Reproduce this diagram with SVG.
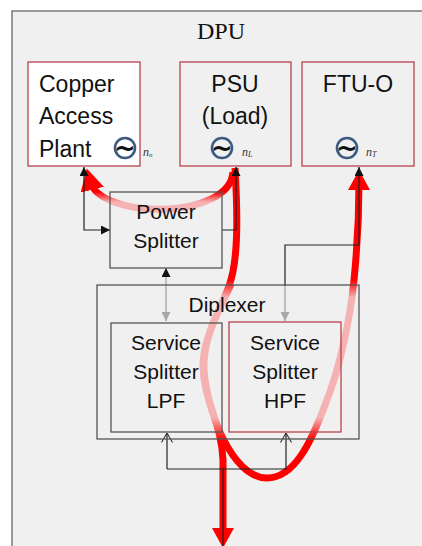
<svg xmlns="http://www.w3.org/2000/svg" width="422" height="546" viewBox="0 0 422 546">
<style>
.box{fill:none;stroke:#555;stroke-width:1.3}
.rbox{fill:none;stroke:#b8434a;stroke-width:1.3}
.t{font-family:"Liberation Sans",Arial,sans-serif;fill:#111}
.big{font-size:23px}
.mid{font-size:21px}
.ln{fill:none;stroke:#222;stroke-width:1.2}
.gl{fill:none;stroke:#a8a8a8;stroke-width:1.4}
.ac{fill:none;stroke:#3d5a80;stroke-width:2.6}
.tl{font-family:"DejaVu Sans",sans-serif;font-size:26px;font-weight:bold;fill:#111;text-anchor:middle}
.sub{font-family:"Liberation Serif","Times New Roman",serif;font-style:italic;font-size:12px;fill:#333}
.red{fill:none;stroke-width:7;stroke-linecap:butt}
</style>
<defs>
<linearGradient id="gArc" gradientUnits="userSpaceOnUse" x1="0" y1="192" x2="0" y2="202">
<stop offset="0" stop-color="#ff0000"/><stop offset="1" stop-color="#f5b2b2"/>
</linearGradient>
<linearGradient id="gV" gradientUnits="userSpaceOnUse" x1="0" y1="280" x2="0" y2="440">
<stop offset="0" stop-color="#ff0000"/><stop offset="0.11" stop-color="#f5b2b2"/>
<stop offset="0.86" stop-color="#f5b2b2"/><stop offset="1" stop-color="#ff0000"/>
</linearGradient>
<marker id="rh" markerUnits="userSpaceOnUse" markerWidth="20" markerHeight="22" viewBox="0 0 20 22" refX="8" refY="11" orient="auto">
<path d="M0,0 L20,11 L0,22 z" fill="#ff0000"/>
</marker>
<marker id="rh2" markerUnits="userSpaceOnUse" markerWidth="22" markerHeight="24" viewBox="0 0 22 24" refX="9" refY="12" orient="auto">
<path d="M0,0 L22,12 L0,24 z" fill="#ff0000"/>
</marker>
<marker id="bh" markerUnits="userSpaceOnUse" markerWidth="9" markerHeight="9" viewBox="0 0 9 9" refX="9" refY="4.5" orient="auto-start-reverse">
<path d="M0,0 L9,4.5 L0,9 z" fill="#111"/>
</marker>
<marker id="gh" markerUnits="userSpaceOnUse" markerWidth="9" markerHeight="9" viewBox="0 0 9 9" refX="9" refY="4.5" orient="auto">
<path d="M0,0 L9,4.5 L0,9 z" fill="#a8a8a8"/>
</marker>
<marker id="oh" markerUnits="userSpaceOnUse" markerWidth="10" markerHeight="12" viewBox="0 0 10 12" refX="9.5" refY="6" orient="auto">
<path d="M0,0.5 L9.5,6 L0,11.5" fill="none" stroke="#333" stroke-width="1.1"/>
</marker>
</defs>
<rect x="0" y="0" width="422" height="546" fill="#ffffff"/>
<g id="dpu">
<rect x="12" y="11" width="430" height="560" fill="#f0f0f0" stroke="#7a7a7a" stroke-width="1.5"/>
<text x="221" y="39" font-family="'Liberation Serif','Times New Roman',serif" font-size="24" fill="#111" text-anchor="middle">DPU</text>
</g>
<g id="connectors">
<path class="red" stroke="url(#gArc)" d="M233,172 C230,220 100,220 90,181" marker-end="url(#rh2)"/>
<path class="red" stroke="url(#gV)" d="M235,168 C238,220 238,262 229,286 C220,310 202,340 203,368 C204,400 222,425 223,460 L223,536" marker-end="url(#rh)"/>
<path class="red" stroke="url(#gV)" d="M231,284 C222,305 203,335 204,368 C206,410 232,478 267,478 C295,478 312,440 325,405 C340,368 350,320 354,280 C357,250 359,215 359,182" marker-end="url(#rh)"/>
<path class="ln" d="M84,167 V230 H110" marker-start="url(#bh)" marker-end="url(#bh)"/>
<path class="ln" d="M222,230 H236 V167" marker-end="url(#bh)"/>
<path class="ln" d="M285,286 V245 H359 V167" marker-end="url(#bh)"/>
<path class="gl" d="M285,286 V321" marker-end="url(#gh)"/>
<path class="gl" d="M166,268 V321" marker-start="url(#bh)" marker-end="url(#gh)"/>
<path class="ln" d="M167,469 V433" marker-end="url(#oh)"/>
<path class="ln" d="M286,469 V433" marker-end="url(#oh)"/>
<path class="ln" stroke="#555" d="M167,469 H286"/>
<path class="ln" d="M223,469 V546"/>
</g>
<g id="copper">
<rect x="28" y="62" width="112" height="104" fill="#ffffff" stroke="#b8434a" stroke-width="1.3"/>
<text class="t big" x="39" y="92">Copper</text>
<text class="t big" x="39" y="124">Access</text>
<text class="t big" x="39" y="157">Plant</text>
<circle class="ac" cx="125" cy="148" r="10"/>
<text class="tl" x="125" y="157">~</text>
<text class="sub" x="143" y="156">n<tspan font-size="7" dy="1">n</tspan></text>
</g>
<g id="psu">
<rect class="rbox" x="180" y="62" width="111" height="104"/>
<text class="t big" x="235" y="92" text-anchor="middle">PSU</text>
<text class="t big" x="235" y="124" text-anchor="middle">(Load)</text>
<circle class="ac" cx="222" cy="148" r="10"/>
<text class="tl" x="222" y="157">~</text>
<text class="sub" x="242" y="156">n<tspan font-size="8" dy="1">L</tspan></text>
</g>
<g id="ftuo">
<rect class="rbox" x="302" y="62" width="112" height="104"/>
<text class="t big" x="358" y="92" text-anchor="middle">FTU-O</text>
<circle class="ac" cx="347" cy="148" r="10"/>
<text class="tl" x="347" y="157">~</text>
<text class="sub" x="366" y="156">n<tspan font-size="8" dy="1">T</tspan></text>
</g>
<g id="power-splitter">
<rect class="box" x="110" y="192" width="112" height="76"/>
<text class="t mid" x="166" y="219" text-anchor="middle">Power</text>
<text class="t mid" x="166" y="248" text-anchor="middle">Splitter</text>
</g>
<g id="diplexer">
<rect class="box" x="97" y="285" width="262" height="154"/>
<text class="t mid" x="227" y="312" text-anchor="middle">Diplexer</text>
</g>
<g id="lpf">
<rect class="box" stroke="#333" x="111" y="323" width="111" height="109"/>
<text class="t mid" x="166" y="350" text-anchor="middle">Service</text>
<text class="t mid" x="166" y="379" text-anchor="middle">Splitter</text>
<text class="t mid" x="166" y="408" text-anchor="middle">LPF</text>
</g>
<g id="hpf">
<rect class="rbox" x="229" y="322" width="112" height="110"/>
<text class="t mid" x="285" y="350" text-anchor="middle">Service</text>
<text class="t mid" x="285" y="379" text-anchor="middle">Splitter</text>
<text class="t mid" x="285" y="408" text-anchor="middle">HPF</text>
</g>
</svg>
